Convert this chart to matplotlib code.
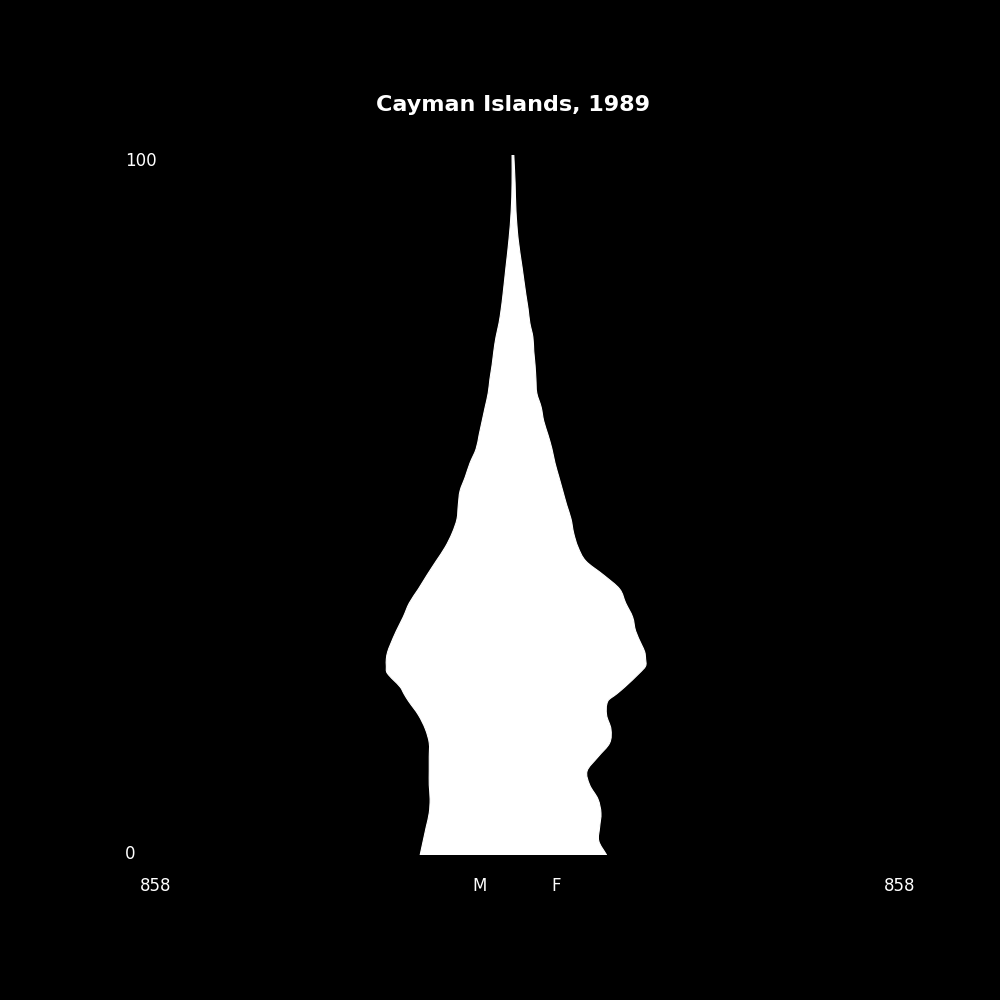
import matplotlib
matplotlib.use("Agg")
import matplotlib.pyplot as plt
from matplotlib.path import Path
from matplotlib.patches import PathPatch

# single-year ages (read every ~2 years off the reference)
ages = [0, 2, 4, 6, 8, 10, 12, 14, 16, 18, 20, 22, 23, 24, 26, 27, 28, 29, 30, 32, 34, 36, 38,
        40, 42, 44, 46, 48, 50, 52, 54, 56, 58, 60, 62, 64, 66, 68, 70, 72, 74, 76, 78,
        80, 84, 88, 92, 96, 100]
males = [213, 206, 199, 192, 190, 192, 192, 192, 192, 201, 217, 240, 250, 259, 289, 291, 291, 288, 282, 268, 252, 238, 217,
         197, 176, 155, 139, 128, 125, 121, 109, 98, 84, 77, 70, 63, 56, 52, 47, 43, 38, 31, 26,
         22, 15, 8, 3, 1, 1]
females = [217, 199, 201, 204, 197, 178, 172, 197, 224, 227, 217, 220, 240, 259, 293, 307, 307, 305, 298, 284, 277, 261, 247,
           210, 169, 151, 141, 135, 125, 116, 107, 98, 91, 82, 72, 66, 56, 54, 52, 49, 47, 40, 36,
           31, 22, 13, 8, 6, 3]
max_val = 858


def smooth_side(ys, xs):
    # cubic bezier segments through the points (x as a function of age)
    n = len(ys)
    slopes = []
    for i in range(n):
        lo, hi = max(i - 1, 0), min(i + 1, n - 1)
        slopes.append((xs[hi] - xs[lo]) / (ys[hi] - ys[lo]))
    verts = []
    for i in range(n - 1):
        h = ys[i + 1] - ys[i]
        verts += [(xs[i] + slopes[i] * h / 3, ys[i] + h / 3),
                  (xs[i + 1] - slopes[i + 1] * h / 3, ys[i + 1] - h / 3),
                  (xs[i + 1], ys[i + 1])]
    return verts


left = smooth_side(ages, [-m for m in males])
right = smooth_side(ages[::-1], females[::-1])
verts = [(-males[0], ages[0])] + left + [(females[-1], ages[-1])] + right + [(-males[0], ages[0])]
codes = ([Path.MOVETO] + [Path.CURVE4] * len(left) + [Path.LINETO]
         + [Path.CURVE4] * len(right) + [Path.CLOSEPOLY])

fig = plt.figure(figsize=(10, 10), dpi=100, facecolor="black")
ax = fig.add_axes([0.1405, 0.145, 0.744, 0.7])
ax.set_facecolor("black")

ax.add_patch(PathPatch(Path(verts, codes), facecolor="white", edgecolor="white", linewidth=0.8))
ax.set_xlim(-max_val, max_val)
ax.set_ylim(0, 100)
ax.axis("off")

fig.text(0.513, 0.895, "Cayman Islands, 1989", color="white", fontsize=16,
         fontweight="bold", ha="center", va="center")
fig.text(0.125, 0.839, "100", color="white", fontsize=12, ha="left", va="center")
fig.text(0.125, 0.146, "0", color="white", fontsize=12, ha="left", va="center")
fig.text(0.156, 0.114, str(max_val), color="white", fontsize=12, ha="center", va="center")
fig.text(0.900, 0.114, str(max_val), color="white", fontsize=12, ha="center", va="center")
fig.text(0.480, 0.114, "M", color="white", fontsize=12, ha="center", va="center")
fig.text(0.556, 0.114, "F", color="white", fontsize=12, ha="center", va="center")

fig.savefig("out.png", facecolor="black")
